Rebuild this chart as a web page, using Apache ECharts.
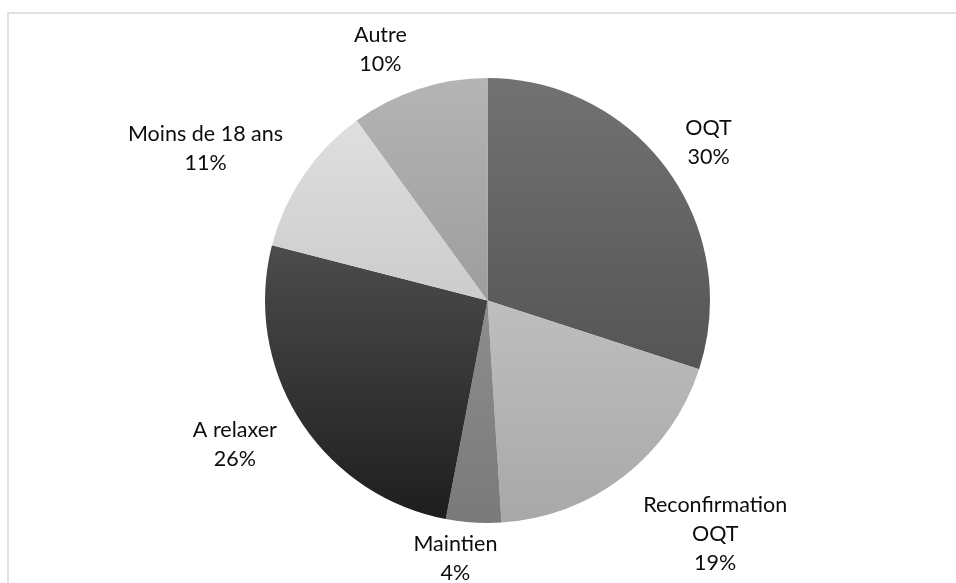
<!DOCTYPE html>
<html>
<head>
<meta charset="utf-8">
<script src="https://cdn.jsdelivr.net/npm/echarts@6/dist/echarts.min.js"></script>
<style>
html,body{margin:0;padding:0;background:#fff;}
#chart{width:956px;height:583px;}
</style>
</head>
<body>
<div id="chart"></div>
<script>
// ---- data ----
const categories = ['OQT', 'Reconfirmation\nOQT', 'Maintien', 'A relaxer', 'Moins de 18 ans', 'Autre'];
const values = [30, 19, 4, 26, 11, 10];
const percentLabels = ['30%', '19%', '4%', '26%', '11%', '10%'];

// ---- styles ----
const sliceColors = [
  ['#727272', '#555555'],
  ['#bebebe', '#a8a8a8'],
  ['#8d8d8d', '#7a7a7a'],
  ['#4c4c4c', '#1e1e1e'],
  ['#dfdfdf', '#cccccc'],
  ['#b4b4b4', '#9d9d9d']
];
const CX = 487.5, CY = 300.5, R = 222.5, LABEL_DIST = 272;
const labelNudge = [[1, 2], [61, 19], [-15, -13], [-23, -2], [-57, 1], [-23, 8]];

const total = values.reduce((a, b) => a + b, 0);
function midAngle(i) {
  let cum = 0;
  for (let j = 0; j < i; j++) cum += values[j];
  return (cum + values[i] / 2) / total * Math.PI * 2;
}

const chart = echarts.init(document.getElementById('chart'), null, {renderer: 'canvas'});
const option = {
  backgroundColor: '#ffffff',
  animation: false,
  graphic: [{
    type: 'rect',
    shape: {x: 8, y: 13, width: 1000, height: 700},
    style: {fill: 'none', stroke: '#dde2e7', lineWidth: 2},
    silent: true,
    z: -1
  }],
  series: [{
    type: 'pie',
    center: [CX, CY],
    radius: [0, R],
    startAngle: 90,
    clockwise: true,
    avoidLabelOverlap: false,
    label: {
      show: true,
      position: 'outside',
      fontFamily: 'Lato',
      fontSize: 21.5,
      lineHeight: 29,
      color: '#0d0d0d',
      formatter: p => categories[p.dataIndex] + '\n' + percentLabels[p.dataIndex]
    },
    labelLine: {show: false},
    labelLayout: function (p) {
      const i = p.dataIndex;
      const a = midAngle(i);
      return {
        x: CX + LABEL_DIST * Math.sin(a) + labelNudge[i][0],
        y: CY - LABEL_DIST * Math.cos(a) + labelNudge[i][1],
        align: 'center',
        verticalAlign: 'middle'
      };
    },
    itemStyle: {borderWidth: 0},
    emphasis: {disabled: true},
    data: values.map((v, i) => ({
      value: v,
      name: categories[i],
      itemStyle: {
        color: new echarts.graphic.LinearGradient(0, 0, 0, 1, [
          {offset: 0, color: sliceColors[i][0]},
          {offset: 1, color: sliceColors[i][1]}
        ])
      }
    }))
  }]
};
chart.setOption(option);
</script>
</body>
</html>
